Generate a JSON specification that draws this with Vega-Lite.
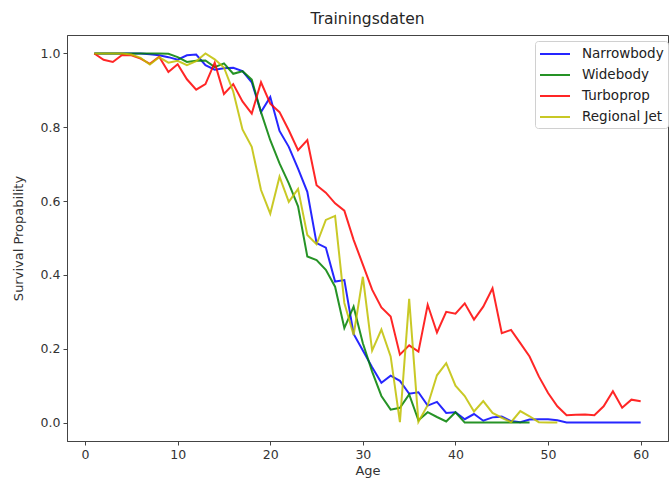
{
  "$schema": "https://vega.github.io/schema/vega-lite/v6.json",
  "autosize": "none",
  "width": 601,
  "height": 406,
  "padding": {"left": 67, "top": 35, "right": 1, "bottom": 45},
  "background": "white",
  "title": {"text": "Trainingsdaten", "font": "DejaVu Sans", "fontSize": 15.5, "fontWeight": "normal", "color": "#262626", "offset": 8},
  "config": {
    "view": {"stroke": "#444", "strokeWidth": 1},
    "axis": {"grid": false, "domainColor": "#444", "tickColor": "#444", "labelColor": "#333", "titleColor": "#333", "labelFont": "DejaVu Sans", "titleFont": "DejaVu Sans", "labelFontSize": 12.5, "titleFontSize": 13, "titleFontWeight": "normal", "tickSize": 4, "labelPadding": 3}
  },
  "data": {"values": [
    {"t":"Narrowbody","a":1,"v":1.0},{"t":"Narrowbody","a":2,"v":1.0},{"t":"Narrowbody","a":3,"v":1.0},{"t":"Narrowbody","a":4,"v":1.0},{"t":"Narrowbody","a":5,"v":1.0},{"t":"Narrowbody","a":6,"v":1.0},{"t":"Narrowbody","a":7,"v":0.998},{"t":"Narrowbody","a":8,"v":0.995},{"t":"Narrowbody","a":9,"v":0.99},{"t":"Narrowbody","a":10,"v":0.983},
    {"t":"Narrowbody","a":11,"v":0.995},{"t":"Narrowbody","a":12,"v":0.997},{"t":"Narrowbody","a":13,"v":0.968},{"t":"Narrowbody","a":14,"v":0.956},{"t":"Narrowbody","a":15,"v":0.96},{"t":"Narrowbody","a":16,"v":0.961},{"t":"Narrowbody","a":17,"v":0.952},{"t":"Narrowbody","a":18,"v":0.922},{"t":"Narrowbody","a":19,"v":0.841},{"t":"Narrowbody","a":20,"v":0.882},
    {"t":"Narrowbody","a":21,"v":0.79},{"t":"Narrowbody","a":22,"v":0.747},{"t":"Narrowbody","a":23,"v":0.688},{"t":"Narrowbody","a":24,"v":0.625},{"t":"Narrowbody","a":25,"v":0.486},{"t":"Narrowbody","a":26,"v":0.474},{"t":"Narrowbody","a":27,"v":0.382},{"t":"Narrowbody","a":28,"v":0.386},{"t":"Narrowbody","a":29,"v":0.24},{"t":"Narrowbody","a":30,"v":0.195},
    {"t":"Narrowbody","a":31,"v":0.15},{"t":"Narrowbody","a":32,"v":0.108},{"t":"Narrowbody","a":33,"v":0.127},{"t":"Narrowbody","a":34,"v":0.113},{"t":"Narrowbody","a":35,"v":0.078},{"t":"Narrowbody","a":36,"v":0.082},{"t":"Narrowbody","a":37,"v":0.046},{"t":"Narrowbody","a":38,"v":0.056},{"t":"Narrowbody","a":39,"v":0.026},{"t":"Narrowbody","a":40,"v":0.028},
    {"t":"Narrowbody","a":41,"v":0.009},{"t":"Narrowbody","a":42,"v":0.023},{"t":"Narrowbody","a":43,"v":0.005},{"t":"Narrowbody","a":44,"v":0.014},{"t":"Narrowbody","a":45,"v":0.016},{"t":"Narrowbody","a":46,"v":0.004},{"t":"Narrowbody","a":47,"v":0.001},{"t":"Narrowbody","a":48,"v":0.008},{"t":"Narrowbody","a":49,"v":0.009},{"t":"Narrowbody","a":50,"v":0.009},
    {"t":"Narrowbody","a":51,"v":0.006},{"t":"Narrowbody","a":52,"v":0.0},{"t":"Narrowbody","a":53,"v":0.0},{"t":"Narrowbody","a":54,"v":0.0},{"t":"Narrowbody","a":55,"v":0.0},{"t":"Narrowbody","a":56,"v":0.0},{"t":"Narrowbody","a":57,"v":0.0},{"t":"Narrowbody","a":58,"v":0.0},{"t":"Narrowbody","a":59,"v":0.0},{"t":"Narrowbody","a":60,"v":0.0},

    {"t":"Widebody","a":1,"v":1.0},{"t":"Widebody","a":2,"v":1.0},{"t":"Widebody","a":3,"v":1.0},{"t":"Widebody","a":4,"v":1.0},{"t":"Widebody","a":5,"v":1.0},{"t":"Widebody","a":6,"v":1.0},{"t":"Widebody","a":7,"v":1.0},{"t":"Widebody","a":8,"v":1.0},{"t":"Widebody","a":9,"v":0.999},{"t":"Widebody","a":10,"v":0.99},
    {"t":"Widebody","a":11,"v":0.977},{"t":"Widebody","a":12,"v":0.98},{"t":"Widebody","a":13,"v":0.981},{"t":"Widebody","a":14,"v":0.963},{"t":"Widebody","a":15,"v":0.973},{"t":"Widebody","a":16,"v":0.945},{"t":"Widebody","a":17,"v":0.952},{"t":"Widebody","a":18,"v":0.929},{"t":"Widebody","a":19,"v":0.841},{"t":"Widebody","a":20,"v":0.765},
    {"t":"Widebody","a":21,"v":0.702},{"t":"Widebody","a":22,"v":0.648},{"t":"Widebody","a":23,"v":0.586},{"t":"Widebody","a":24,"v":0.45},{"t":"Widebody","a":25,"v":0.44},{"t":"Widebody","a":26,"v":0.414},{"t":"Widebody","a":27,"v":0.368},{"t":"Widebody","a":28,"v":0.256},{"t":"Widebody","a":29,"v":0.314},{"t":"Widebody","a":30,"v":0.215},
    {"t":"Widebody","a":31,"v":0.138},{"t":"Widebody","a":32,"v":0.072},{"t":"Widebody","a":33,"v":0.035},{"t":"Widebody","a":34,"v":0.04},{"t":"Widebody","a":35,"v":0.076},{"t":"Widebody","a":36,"v":0.006},{"t":"Widebody","a":37,"v":0.028},{"t":"Widebody","a":38,"v":0.015},{"t":"Widebody","a":39,"v":0.003},{"t":"Widebody","a":40,"v":0.028},
    {"t":"Widebody","a":41,"v":0.0},{"t":"Widebody","a":42,"v":0.0},{"t":"Widebody","a":43,"v":0.0},{"t":"Widebody","a":44,"v":0.0},{"t":"Widebody","a":45,"v":0.0},{"t":"Widebody","a":46,"v":0.0},{"t":"Widebody","a":47,"v":0.0},{"t":"Widebody","a":48,"v":0.0},

    {"t":"Turboprop","a":1,"v":1.0},{"t":"Turboprop","a":2,"v":0.983},{"t":"Turboprop","a":3,"v":0.977},{"t":"Turboprop","a":4,"v":0.996},{"t":"Turboprop","a":5,"v":0.995},{"t":"Turboprop","a":6,"v":0.986},{"t":"Turboprop","a":7,"v":0.972},{"t":"Turboprop","a":8,"v":0.991},{"t":"Turboprop","a":9,"v":0.95},{"t":"Turboprop","a":10,"v":0.971},
    {"t":"Turboprop","a":11,"v":0.93},{"t":"Turboprop","a":12,"v":0.902},{"t":"Turboprop","a":13,"v":0.917},{"t":"Turboprop","a":14,"v":0.975},{"t":"Turboprop","a":15,"v":0.89},{"t":"Turboprop","a":16,"v":0.917},{"t":"Turboprop","a":17,"v":0.87},{"t":"Turboprop","a":18,"v":0.837},{"t":"Turboprop","a":19,"v":0.922},{"t":"Turboprop","a":20,"v":0.864},
    {"t":"Turboprop","a":21,"v":0.841},{"t":"Turboprop","a":22,"v":0.792},{"t":"Turboprop","a":23,"v":0.738},{"t":"Turboprop","a":24,"v":0.765},{"t":"Turboprop","a":25,"v":0.643},{"t":"Turboprop","a":26,"v":0.623},{"t":"Turboprop","a":27,"v":0.594},{"t":"Turboprop","a":28,"v":0.574},{"t":"Turboprop","a":29,"v":0.495},{"t":"Turboprop","a":30,"v":0.428},
    {"t":"Turboprop","a":31,"v":0.36},{"t":"Turboprop","a":32,"v":0.312},{"t":"Turboprop","a":33,"v":0.287},{"t":"Turboprop","a":34,"v":0.184},{"t":"Turboprop","a":35,"v":0.209},{"t":"Turboprop","a":36,"v":0.192},{"t":"Turboprop","a":37,"v":0.319},{"t":"Turboprop","a":38,"v":0.244},{"t":"Turboprop","a":39,"v":0.3},{"t":"Turboprop","a":40,"v":0.295},
    {"t":"Turboprop","a":41,"v":0.323},{"t":"Turboprop","a":42,"v":0.279},{"t":"Turboprop","a":43,"v":0.314},{"t":"Turboprop","a":44,"v":0.364},{"t":"Turboprop","a":45,"v":0.242},{"t":"Turboprop","a":46,"v":0.251},{"t":"Turboprop","a":47,"v":0.215},{"t":"Turboprop","a":48,"v":0.179},{"t":"Turboprop","a":49,"v":0.125},{"t":"Turboprop","a":50,"v":0.08},
    {"t":"Turboprop","a":51,"v":0.044},{"t":"Turboprop","a":52,"v":0.02},{"t":"Turboprop","a":53,"v":0.021},{"t":"Turboprop","a":54,"v":0.022},{"t":"Turboprop","a":55,"v":0.02},{"t":"Turboprop","a":56,"v":0.044},{"t":"Turboprop","a":57,"v":0.085},{"t":"Turboprop","a":58,"v":0.04},{"t":"Turboprop","a":59,"v":0.062},{"t":"Turboprop","a":60,"v":0.058},

    {"t":"Regional Jet","a":1,"v":1.0},{"t":"Regional Jet","a":2,"v":1.0},{"t":"Regional Jet","a":3,"v":1.0},{"t":"Regional Jet","a":4,"v":1.0},{"t":"Regional Jet","a":5,"v":0.997},{"t":"Regional Jet","a":6,"v":0.988},{"t":"Regional Jet","a":7,"v":0.97},{"t":"Regional Jet","a":8,"v":0.99},{"t":"Regional Jet","a":9,"v":0.975},{"t":"Regional Jet","a":10,"v":0.98},
    {"t":"Regional Jet","a":11,"v":0.968},{"t":"Regional Jet","a":12,"v":0.979},{"t":"Regional Jet","a":13,"v":1.0},{"t":"Regional Jet","a":14,"v":0.984},{"t":"Regional Jet","a":15,"v":0.962},{"t":"Regional Jet","a":16,"v":0.897},{"t":"Regional Jet","a":17,"v":0.794},{"t":"Regional Jet","a":18,"v":0.747},{"t":"Regional Jet","a":19,"v":0.63},{"t":"Regional Jet","a":20,"v":0.566},
    {"t":"Regional Jet","a":21,"v":0.666},{"t":"Regional Jet","a":22,"v":0.598},{"t":"Regional Jet","a":23,"v":0.633},{"t":"Regional Jet","a":24,"v":0.508},{"t":"Regional Jet","a":25,"v":0.483},{"t":"Regional Jet","a":26,"v":0.549},{"t":"Regional Jet","a":27,"v":0.56},{"t":"Regional Jet","a":28,"v":0.324},{"t":"Regional Jet","a":29,"v":0.237},{"t":"Regional Jet","a":30,"v":0.395},
    {"t":"Regional Jet","a":31,"v":0.195},{"t":"Regional Jet","a":32,"v":0.252},{"t":"Regional Jet","a":33,"v":0.179},{"t":"Regional Jet","a":34,"v":0.001},{"t":"Regional Jet","a":35,"v":0.335},{"t":"Regional Jet","a":36,"v":0.002},{"t":"Regional Jet","a":37,"v":0.047},{"t":"Regional Jet","a":38,"v":0.128},{"t":"Regional Jet","a":39,"v":0.161},{"t":"Regional Jet","a":40,"v":0.1},
    {"t":"Regional Jet","a":41,"v":0.072},{"t":"Regional Jet","a":42,"v":0.03},{"t":"Regional Jet","a":43,"v":0.058},{"t":"Regional Jet","a":44,"v":0.026},{"t":"Regional Jet","a":45,"v":0.013},{"t":"Regional Jet","a":46,"v":0.001},{"t":"Regional Jet","a":47,"v":0.031},{"t":"Regional Jet","a":48,"v":0.017},{"t":"Regional Jet","a":49,"v":0.001},{"t":"Regional Jet","a":50,"v":0.0},
    {"t":"Regional Jet","a":51,"v":0.0}
  ]},
  "mark": {"type": "line", "strokeWidth": 2, "opacity": 0.85},
  "encoding": {
    "x": {"field": "a", "type": "quantitative", "title": "Age",
      "scale": {"domain": [-1.95, 62.95], "nice": false, "zero": false},
      "axis": {"values": [0, 10, 20, 30, 40, 50, 60], "titlePadding": 4}},
    "y": {"field": "v", "type": "quantitative", "title": "Survival Propability",
      "scale": {"domain": [-0.05, 1.05], "nice": false, "zero": false},
      "axis": {"values": [0, 0.2, 0.4, 0.6, 0.8, 1.0], "format": ".1f", "titlePadding": 15}},
    "color": {"field": "t", "type": "nominal",
      "scale": {"domain": ["Narrowbody", "Widebody", "Turboprop", "Regional Jet"], "range": ["#0000ff", "#008000", "#ff0000", "#bfbf00"]},
      "legend": {"title": null, "orient": "none", "legendX": 468, "legendY": 6, "fillColor": "white", "strokeColor": "#d0d0d0", "cornerRadius": 3, "padding": 4, "symbolType": "M-1,0H2.75", "symbolSize": 256, "symbolStrokeWidth": 2, "labelFont": "DejaVu Sans", "labelFontSize": 13.5, "labelColor": "#222", "rowPadding": 5, "labelOffset": 25}},
    "order": {"field": "a", "type": "quantitative"}
  }
}
